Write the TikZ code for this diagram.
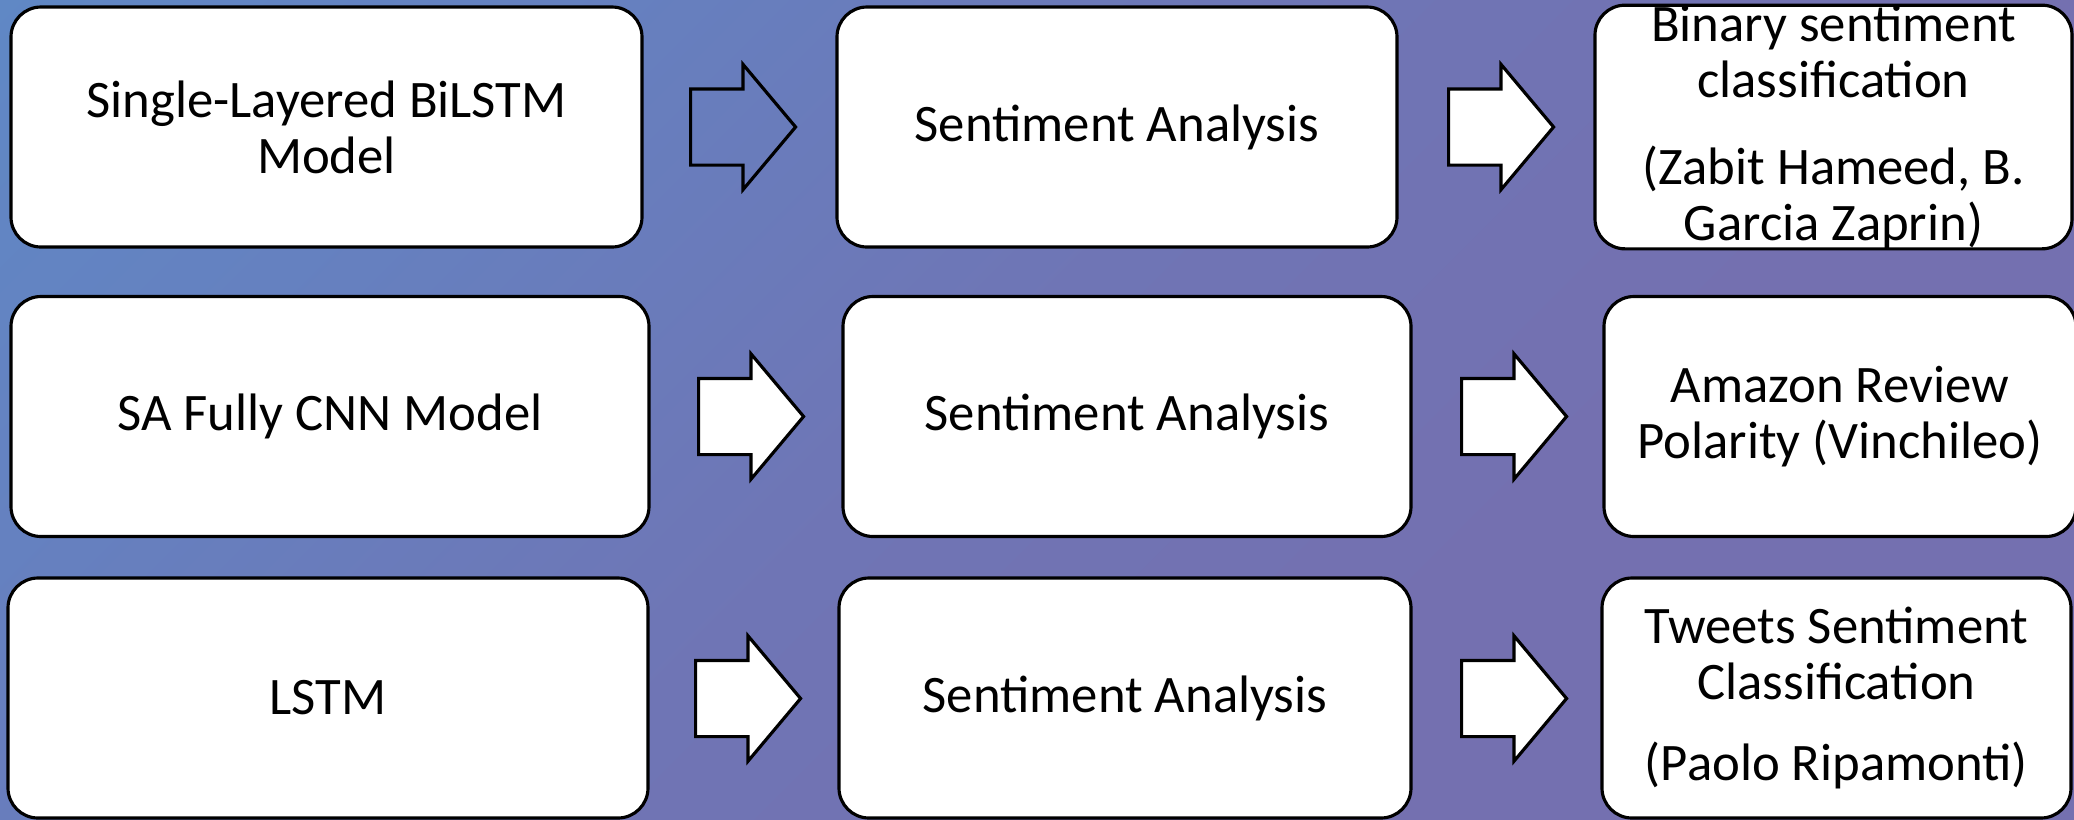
\documentclass[tikz,border=0pt]{standalone}
\usepackage{fontspec}
\setmainfont{Carlito}
\usepackage{tikz}
\usetikzlibrary{shapes.arrows}

\definecolor{bgblue}{HTML}{5A8FCA}
\definecolor{bgmid}{HTML}{6581C0}
\definecolor{bglate}{HTML}{6F75B5}
\definecolor{bgpurple}{HTML}{7470B0}
\pgfdeclarehorizontalshading{slideshade}{100bp}{color(0bp)=(bgblue); color(28bp)=(bgmid); color(48bp)=(bglate); color(65bp)=(bgpurple); color(100bp)=(bgpurple)}

\begin{document}
\begin{tikzpicture}[x=1cm,y=-1cm]
% Box and arrow looks
\tikzset{
    box/.style={
        draw=black,
        line width=0.9pt,
        fill=white,
        rounded corners=0.3cm,
        align=center,
        inner sep=0pt,
        minimum height=2.4cm,
        font=\fontsize{15}{16}\selectfont
    },
    blockarrow/.style={
        draw=black,
        line width=0.9pt,
        shape=single arrow,
        anchor=west,
        single arrow head extend=0.245cm,
        single arrow tip angle=100,
        minimum height=1.05cm,
        inner xsep=0pt,
        inner ysep=0.365cm
    },
}
% Slide background
\useasboundingbox (0,0) rectangle (20.74,8.19);
\shade[shading=slideshade, shading angle=-45] (0,0) rectangle (20.74,8.19);
% Row 1
\node[box, minimum width=6.31cm] (model1) at (3.265,1.27) {Single-Layered BiLSTM\\Model};
\node[blockarrow, fill=none] (arrow1a) at (6.89,1.27) {};
\node[box, minimum width=5.60cm] (task1) at (11.17,1.27) {Sentiment Analysis};
\node[blockarrow, fill=white] (arrow1b) at (14.47,1.27) {};
\node[box, minimum width=4.77cm] (data1) at (18.335,1.27)
    {Binary sentiment\\classification\\[0.3cm](Zabit Hameed, B.\\Garcia Zaprin)};
% Row 2
\node[box, minimum width=6.38cm] (model2) at (3.30,4.165) {SA Fully CNN Model};
\node[blockarrow, fill=white] (arrow2a) at (6.97,4.165) {};
\node[box, minimum width=5.68cm] (task2) at (11.27,4.165) {Sentiment Analysis};
\node[blockarrow, fill=white] (arrow2b) at (14.60,4.165) {};
\node[box, minimum width=4.72cm] (data2) at (18.40,4.165) {Amazon Review\\Polarity (Vinchileo)};
% Row 3
\node[box, minimum width=6.40cm] (model3) at (3.28,6.98) {LSTM};
\node[blockarrow, fill=white] (arrow3a) at (6.94,6.985) {};
\node[box, minimum width=5.72cm] (task3) at (11.25,6.98) {Sentiment Analysis};
\node[blockarrow, fill=white] (arrow3b) at (14.60,6.985) {};
\node[box, minimum width=4.69cm] (data3) at (18.365,6.98)
    {Tweets Sentiment\\Classification\\[0.25cm](Paolo Ripamonti)};
\end{tikzpicture}
\end{document}
